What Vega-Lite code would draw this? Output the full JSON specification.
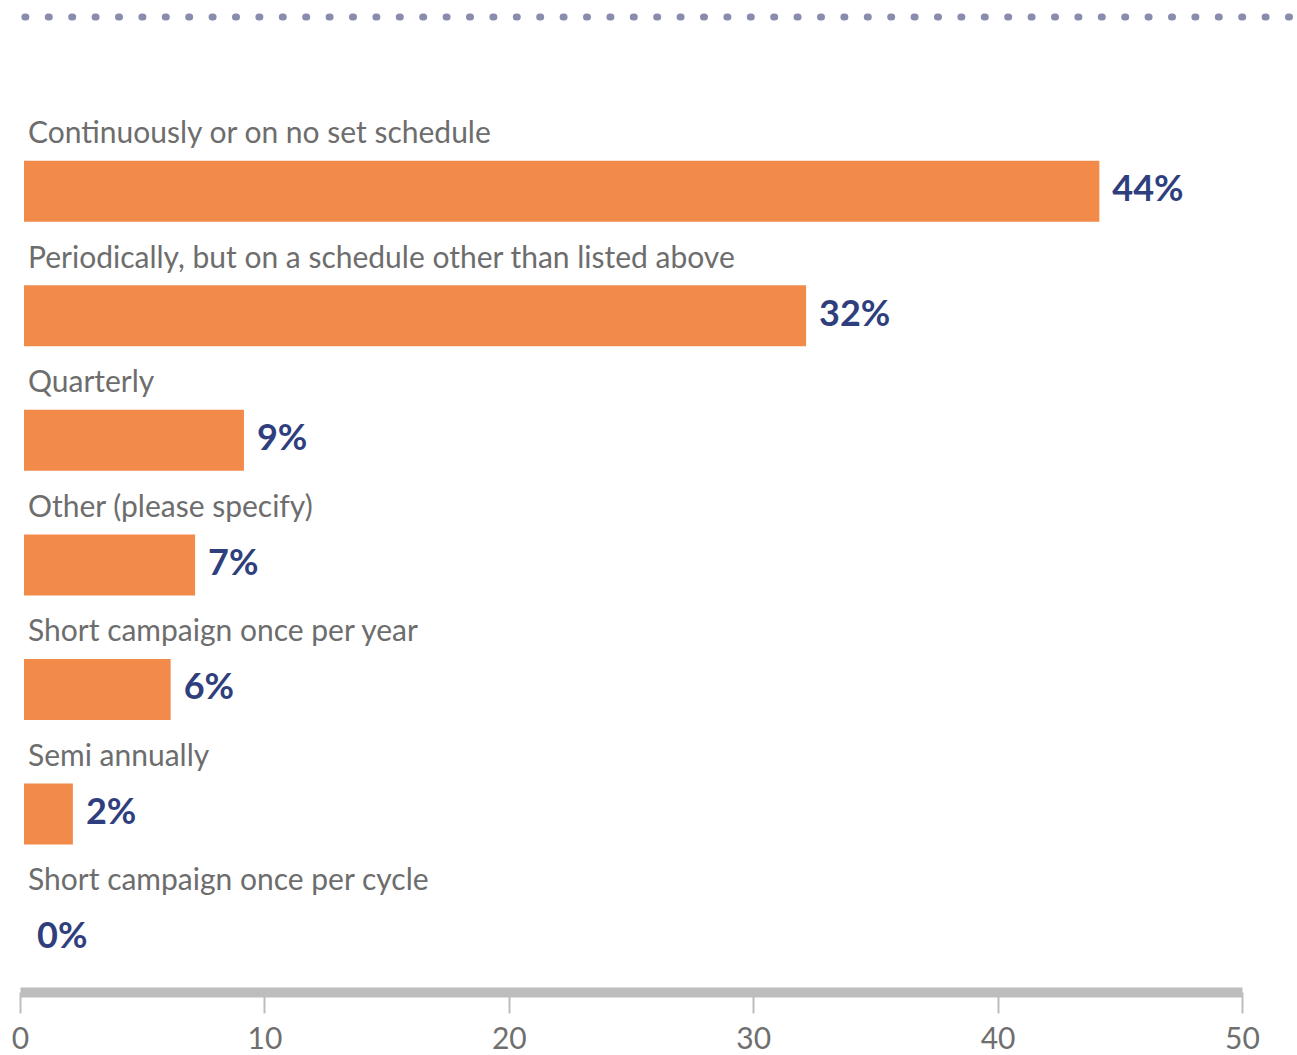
{
  "$schema": "https://vega.github.io/schema/vega-lite/v6.json",
  "width": 1222,
  "height": 980,
  "autosize": {"type": "none"},
  "padding": {"left": 20, "top": 12, "right": 55, "bottom": 63},
  "background": "white",
  "config": {"view": {"stroke": null}, "font": "Lato"},
  "data": {
    "values": [
      {"category": "Continuously or on no set schedule", "value": 44, "label": "44%", "rank": 1},
      {"category": "Periodically, but on a schedule other than listed above", "value": 32, "label": "32%", "rank": 2},
      {"category": "Quarterly", "value": 9, "label": "9%", "rank": 3},
      {"category": "Other (please specify)", "value": 7, "label": "7%", "rank": 4},
      {"category": "Short campaign once per year", "value": 6, "label": "6%", "rank": 5},
      {"category": "Semi annually", "value": 2, "label": "2%", "rank": 6},
      {"category": "Short campaign once per cycle", "value": 0, "label": "0%", "rank": 7}
    ]
  },
  "layer": [
    {
      "data": {"values": [{"line": "top"}]},
      "mark": {"type": "rule", "strokeDash": [1, 22.4], "strokeCap": "round", "strokeWidth": 7, "color": "#8a8cae"},
      "encoding": {
        "y": {"datum": -0.4, "type": "quantitative", "scale": {"domain": [-0.4, 7.39], "reverse": true, "nice": false, "zero": false}, "axis": null},
        "x": {"datum": 0.2, "type": "quantitative"},
        "x2": {"datum": 52}
      }
    },
    {
      "mark": {"type": "bar", "orient": "horizontal", "size": 61, "color": "#F28A4A", "xOffset": 4, "x2Offset": 4},
      "encoding": {
        "y": {"field": "rank", "type": "quantitative"},
        "x": {
          "field": "value",
          "type": "quantitative",
          "scale": {"domain": [0, 50], "nice": false},
          "axis": {
            "values": [0, 10, 20, 30, 40, 50],
            "title": null,
            "grid": false,
            "domainColor": "#bdbdbd",
            "domainWidth": 10,
            "tickColor": "#bdbdbd",
            "tickWidth": 2,
            "tickSize": 21,
            "labelFontSize": 30,
            "labelColor": "#6f6f6f",
            "labelPadding": 11,
            "labelFont": "Lato",
            "labelFlush": false
          }
        },
        "x2": {"datum": 0}
      }
    },
    {
      "mark": {"type": "text", "align": "left", "baseline": "alphabetic", "dx": 8, "dy": -48, "fontSize": 30, "color": "#6d6d6d"},
      "encoding": {
        "y": {"field": "rank", "type": "quantitative"},
        "x": {"datum": 0, "type": "quantitative"},
        "text": {"field": "category"}
      }
    },
    {
      "mark": {"type": "text", "align": "left", "baseline": "alphabetic", "dx": 17, "dy": 10, "fontSize": 36, "fontWeight": "bold", "color": "#2f3f7e"},
      "encoding": {
        "y": {"field": "rank", "type": "quantitative"},
        "x": {"field": "value", "type": "quantitative"},
        "text": {"field": "label"}
      }
    }
  ]
}
